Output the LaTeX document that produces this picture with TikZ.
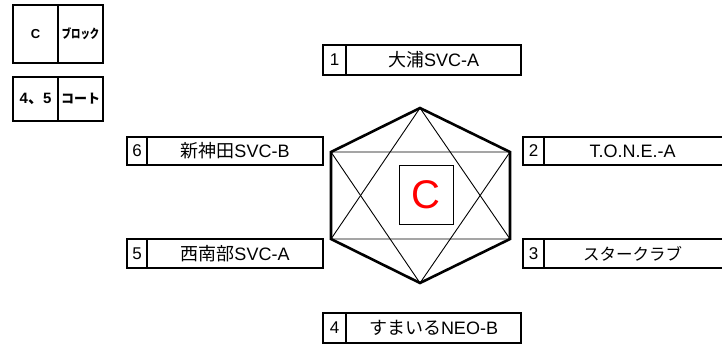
\documentclass[tikz,border=0pt]{standalone}
\usepackage{fontspec}
\setmainfont{Liberation Sans}
\newfontfamily\jp{Noto Sans CJK JP}
\newfontfamily\jpb{Noto Sans CJK JP Bold}
\usetikzlibrary{positioning}
\begin{document}
\begin{tikzpicture}[x=1pt,y=-1pt,
  cell/.style={draw=black,line width=2pt,inner sep=0pt,anchor=north west,font=\fontsize{18}{18}\selectfont},
  numcell/.style={cell,font=\fontsize{17}{17}\selectfont},
  hexline/.style={line width=2.6pt,line join=miter},
  thin/.style={line width=0.9pt},
  blk/.style={draw=black,line width=2pt,inner sep=0pt,anchor=north west,font=\bfseries\fontsize{15}{15}\selectfont}]
\useasboundingbox (0,0) rectangle (722,346);
\begin{scope}
\clip (0,0) rectangle (722,346);
% block labels
\node[blk,minimum width=45pt,minimum height=58pt] (blkA) at (12,4) {\fontsize{13}{13}\selectfont C};
\node[blk,minimum width=45pt,minimum height=58pt] (blkB) at (57,4) {\jpb\fontsize{12.5}{12.5}\selectfont\scalebox{0.75}[1]{ブロック}};
\node[blk,minimum width=45pt,minimum height=44pt] (crtA) at (12,76) {4{\jpb 、}5};
\node[blk,minimum width=45pt,minimum height=44pt] (crtB) at (57,76) {\jpb\fontsize{13}{13}\selectfont コート};
% teams
\node[numcell,minimum width=23pt,minimum height=30pt] (n1) at (322,44) {1};
\node[cell,minimum width=175pt,minimum height=30pt] (t1) at (345,44) {{\jp 大浦}SVC-A};
\node[numcell,minimum width=21pt,minimum height=28pt] (n2) at (522,136) {2};
\node[cell,minimum width=185pt,minimum height=28pt] (t2) at (543,136) {\hspace*{-8pt}T.O.N.E.-A};
\node[numcell,minimum width=21pt,minimum height=29pt] (n3) at (522,238) {3};
\node[cell,minimum width=185pt,minimum height=29pt] (t3) at (543,238) {\hspace*{-8pt}{\jp\fontsize{16.5}{16.5}\selectfont スタークラブ}};
\node[numcell,minimum width=23pt,minimum height=30pt] (n4) at (322,312) {4};
\node[cell,minimum width=175pt,minimum height=30pt] (t4) at (345,312) {{\jp すまいる}NEO-B};
\node[numcell,minimum width=20pt,minimum height=29pt] (n5) at (126,238) {5};
\node[cell,minimum width=176pt,minimum height=29pt] (t5) at (146,238) {{\jp 西南部}SVC-A};
\node[numcell,minimum width=20pt,minimum height=28pt] (n6) at (126,136) {6};
\node[cell,minimum width=176pt,minimum height=28pt] (t6) at (146,136) {{\jp 新神田}SVC-B};
% hexagon
\coordinate (hT) at (420,108);
\coordinate (hUL) at (331,152);
\coordinate (hLL) at (331,239);
\coordinate (hB) at (420,283);
\coordinate (hLR) at (510,239);
\coordinate (hUR) at (510,152);
\draw[thin] (hT) -- (hLL) -- (hLR) -- cycle;
\draw[thin] (hB) -- (hUL) -- (hUR) -- cycle;
\draw[hexline] (hT) -- (hUL) -- (hLL) -- (hB) -- (hLR) -- (hUR) -- cycle;
\node[draw=black,line width=0.9pt,minimum width=54pt,minimum height=59pt,inner sep=0pt,text=red,font=\fontsize{40}{40}\selectfont] (ctr) at (426,194.5) {C};
\end{scope}
\end{tikzpicture}
\end{document}
